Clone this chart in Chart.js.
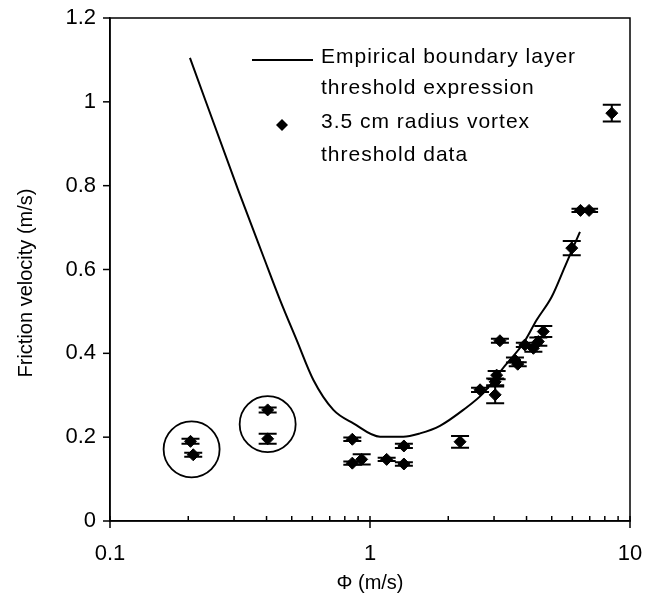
<!DOCTYPE html>
<html>
<head>
<meta charset="utf-8">
<script src="https://cdn.jsdelivr.net/npm/chart.js@4/dist/chart.umd.min.js"></script>
<style>
  html, body { margin: 0; padding: 0; background: #fff; }
  #wrap { width: 660px; height: 603px; }
</style>
</head>
<body>
<div id="wrap"><canvas id="grafico" width="660" height="603"></canvas></div>
<script>
// ================= DADOS =================

// curva empirica (camada limite)
const curvaX = [0.203, 0.311, 0.389, 0.451, 0.522, 0.605, 0.723, 0.863, 1.093, 1.343, 1.557, 1.858, 2.285, 2.728, 3.30, 3.89, 4.38, 5.00, 5.62, 6.42];
const curvaY = [1.105, 0.790, 0.631, 0.527, 0.432, 0.337, 0.265, 0.233, 0.201, 0.201, 0.209, 0.227, 0.265, 0.305, 0.370, 0.424, 0.480, 0.535, 0.607, 0.690];

// dados do vortice 3.5 cm
const pontosX =   [0.204, 0.209, 0.404, 0.404, 0.855, 0.855, 0.929, 1.159, 1.35, 1.35, 2.22, 2.65, 3.03, 3.03, 3.07, 3.16, 3.61, 3.70, 3.94, 4.25, 4.44, 4.64, 5.97, 6.45, 6.96, 8.51];
const pontosY =   [0.190, 0.158, 0.265, 0.196, 0.195, 0.138, 0.147, 0.147, 0.179, 0.136, 0.189, 0.313, 0.301, 0.332, 0.348, 0.430, 0.384, 0.374, 0.420, 0.412, 0.428, 0.452, 0.651, 0.741, 0.741, 0.973];
const pontosErr = [0.006, 0.005, 0.006, 0.012, 0.004, 0.004, 0.012, 0.004, 0.005, 0.004, 0.014, 0.005, 0.020, 0.008, 0.010, 0.005, 0.006, 0.005, 0.005, 0.008, 0.010, 0.013, 0.017, 0.004, 0.004, 0.020];

// grupos circulados (centro x, centro y)
const circulosX = [0.206, 0.404];
const circulosY = [0.171, 0.231];

// eixos
const ticksX = [0.1, 1, 10];
const ticksXMenores = [0.2, 0.3, 0.4, 0.5, 0.6, 0.7, 0.8, 0.9, 2, 3, 4, 5, 6, 7, 8, 9];
const ticksY = [0, 0.2, 0.4, 0.6, 0.8, 1, 1.2];

const legendaTextos = [
  ["Empirical boundary layer", "threshold expression"],
  ["3.5 cm radius vortex", "threshold data"]
];

const FONTE = '"Liberation Sans", Arial, sans-serif';

// ================= PLUGINS =================

const extras = {
  id: "extras",
  afterDatasetsDraw(chart) {
    const ctx = chart.ctx;
    const xs = chart.scales.x;
    const ys = chart.scales.y;
    const area = chart.chartArea;

    ctx.save();
    ctx.strokeStyle = "#000";
    ctx.fillStyle = "#000";

    // barras de erro
    ctx.lineWidth = 2;
    pontosX.forEach((x, i) => {
      const px = xs.getPixelForValue(x);
      const p1 = ys.getPixelForValue(pontosY[i] + pontosErr[i]);
      const p2 = ys.getPixelForValue(pontosY[i] - pontosErr[i]);
      ctx.beginPath();
      ctx.moveTo(px, p1); ctx.lineTo(px, p2);
      ctx.moveTo(px - 9, p1); ctx.lineTo(px + 9, p1);
      ctx.moveTo(px - 9, p2); ctx.lineTo(px + 9, p2);
      ctx.stroke();
    });

    // circulos
    ctx.lineWidth = 1.8;
    circulosX.forEach((x, i) => {
      ctx.beginPath();
      ctx.arc(xs.getPixelForValue(x), ys.getPixelForValue(circulosY[i]), 28, 0, Math.PI * 2);
      ctx.stroke();
    });

    // moldura
    ctx.lineWidth = 1.5;
    ctx.strokeRect(area.left, area.top, area.right - area.left, area.bottom - area.top);

    // marcas do eixo y
    ticksY.forEach(v => {
      const py = ys.getPixelForValue(v);
      ctx.beginPath();
      ctx.moveTo(area.left - 7, py); ctx.lineTo(area.left, py);
      ctx.stroke();
    });

    // marcas do eixo x
    ticksX.forEach(v => {
      const px = xs.getPixelForValue(v);
      ctx.beginPath();
      ctx.moveTo(px, area.bottom - 5); ctx.lineTo(px, area.bottom + 7);
      ctx.stroke();
    });
    ticksXMenores.forEach(v => {
      const px = xs.getPixelForValue(v);
      ctx.beginPath();
      ctx.moveTo(px, area.bottom - 5); ctx.lineTo(px, area.bottom);
      ctx.stroke();
    });

    // titulos dos eixos
    ctx.font = "20px " + FONTE;
    ctx.textAlign = "center";
    ctx.textBaseline = "middle";
    ctx.fillText("\u03A6 (m/s)", (area.left + area.right) / 2, 583);
    ctx.save();
    ctx.translate(26, 283);
    ctx.rotate(-Math.PI / 2);
    ctx.fillText("Friction velocity (m/s)", 0, 0);
    ctx.restore();

    // legenda
    ctx.lineWidth = 2;
    ctx.beginPath();
    ctx.moveTo(252, 60); ctx.lineTo(313, 60);
    ctx.stroke();
    ctx.beginPath();
    ctx.moveTo(282, 119); ctx.lineTo(288, 125); ctx.lineTo(282, 131); ctx.lineTo(276, 125);
    ctx.closePath();
    ctx.fill();
    ctx.font = "21px " + FONTE;
    ctx.letterSpacing = "1px";
    ctx.textAlign = "left";
    ctx.fillText(legendaTextos[0][0], 321, 57);
    ctx.fillText(legendaTextos[0][1], 321, 88);
    ctx.fillText(legendaTextos[1][0], 321, 122);
    ctx.fillText(legendaTextos[1][1], 321, 155);

    ctx.restore();
  }
};

// ================= GRAFICO =================

function renderGrafico() {
  const canvas = document.getElementById("grafico");

  new Chart(canvas, {
    type: "scatter",
    data: {
      datasets: [
        {
          label: "Empirical boundary layer threshold expression",
          data: curvaX.map((x, i) => ({ x, y: curvaY[i] })),
          showLine: true,
          borderColor: "#000",
          borderWidth: 2,
          pointRadius: 0,
          cubicInterpolationMode: "monotone",
          order: 2
        },
        {
          label: "3.5 cm radius vortex threshold data",
          data: pontosX.map((x, i) => ({ x, y: pontosY[i] })),
          pointStyle: "rectRot",
          pointRadius: 6,
          backgroundColor: "#000",
          borderColor: "#000",
          borderWidth: 1,
          order: 1
        }
      ]
    },
    options: {
      responsive: false,
      animation: false,
      layout: { padding: { top: 18, right: 30, left: 0, bottom: 0 } },
      plugins: { legend: { display: false }, tooltip: { enabled: false } },
      scales: {
        x: {
          type: "logarithmic",
          min: 0.1,
          max: 10,
          grid: { display: false, drawTicks: false },
          border: { display: true, color: "#000", width: 1.5 },
          afterBuildTicks: s => { s.ticks = ticksX.map(v => ({ value: v })); },
          afterFit: s => { s.height = 82; s.paddingLeft = 0; s.paddingRight = 0; },
          ticks: {
            autoSkip: false,
            maxRotation: 0,
            padding: 20,
            color: "#000",
            font: { family: FONTE, size: 22 },
            callback: v => String(v)
          }
        },
        y: {
          min: 0,
          max: 1.2,
          grid: { display: false, drawTicks: false },
          border: { display: true, color: "#000", width: 1.5 },
          afterBuildTicks: s => { s.ticks = ticksY.map(v => ({ value: v })); },
          afterFit: s => { s.width = 110; s.paddingTop = 0; s.paddingBottom = 0; },
          ticks: {
            padding: 14,
            color: "#000",
            font: { family: FONTE, size: 22 },
            callback: v => String(Number(v.toFixed(1)))
          }
        }
      }
    },
    plugins: [extras]
  });
}

renderGrafico();
</script>
</body>
</html>
